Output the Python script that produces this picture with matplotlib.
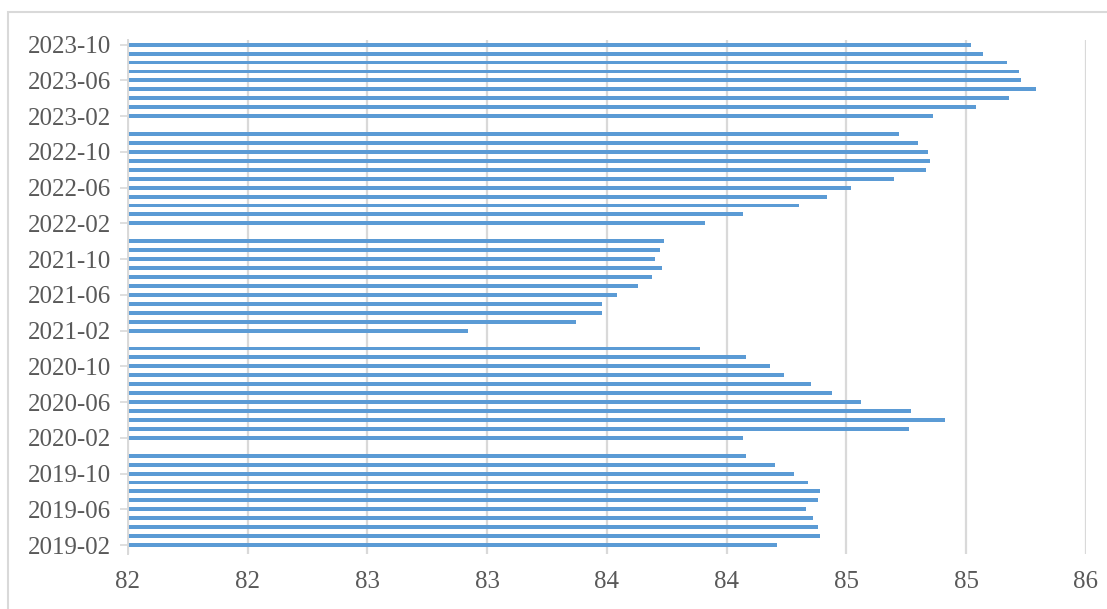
import numpy as np
import pandas as pd
import matplotlib
matplotlib.use("Agg")
import matplotlib.pyplot as plt
from matplotlib.patches import Rectangle

# monthly categories, 2019-02 .. 2023-10 (January has no value)
months = [p.strftime("%Y-%m") for p in pd.period_range("2019-02", "2023-10", freq="M")]

values_2019 = [84.71, 84.89, 84.88, 84.86, 84.83, 84.88, 84.89, 84.84, 84.78, 84.70, 84.58]
values_2020 = [np.nan, 84.57, 85.26, 85.41, 85.27, 85.06, 84.94, 84.85, 84.74, 84.68, 84.58, 84.39]
values_2021 = [np.nan, 83.42, 83.87, 83.98, 83.98, 84.04, 84.13, 84.19, 84.23, 84.20, 84.22, 84.24]
values_2022 = [np.nan, 84.41, 84.57, 84.80, 84.92, 85.02, 85.20, 85.33, 85.35, 85.34, 85.30, 85.22]
values_2023 = [np.nan, 85.36, 85.54, 85.68, 85.79, 85.73, 85.72, 85.67, 85.57, 85.52]
values = values_2019 + values_2020 + values_2021 + values_2022 + values_2023

x_ticks = [82, 82.5, 83, 83.5, 84, 84.5, 85, 85.5, 86]
x_tick_labels = ["82", "82", "83", "83", "84", "84", "85", "85", "86"]

BLUE = "#5B9BD5"
GRID = "#D9D9D9"
TEXT = "#595959"
FONT = "Liberation Serif"

fig = plt.figure(figsize=(11.07, 6.09), dpi=100)
ax = fig.add_axes([0.1156, 0.0903, 0.9810 - 0.1156, 0.9340 - 0.0903])

y = np.arange(len(months))
ax.barh(y, values, height=0.44, color=BLUE, zorder=3)

ax.set_xlim(82, 86)
ax.set_ylim(-1.0, len(months) - 0.5)

ax.set_xticks(x_ticks)
ax.set_xticklabels(x_tick_labels, fontsize=18, color=TEXT, family=FONT)
ax.tick_params(axis="x", length=0, pad=12)

label_idx = list(range(0, len(months), 4))
ax.set_yticks(label_idx)
ax.set_yticklabels([months[i] for i in label_idx], fontsize=18, color=TEXT, family=FONT)
ax.tick_params(axis="y", length=6, width=1.2, color=GRID, pad=6)

ax.grid(axis="x", color=GRID, linewidth=1.6, zorder=0)
for side in ["top", "right", "bottom"]:
    ax.spines[side].set_visible(False)
ax.spines["left"].set_color(GRID)
ax.spines["left"].set_linewidth(1.4)
ax.spines["left"].set_zorder(4)

# light outer frame
frame = Rectangle((8 / 1107, -0.05), 1.2, 1 - 12 / 609 + 0.05, transform=fig.transFigure,
                  fill=False, edgecolor=GRID, linewidth=1.5)
fig.patches.append(frame)

fig.savefig("out.png", dpi=100)
